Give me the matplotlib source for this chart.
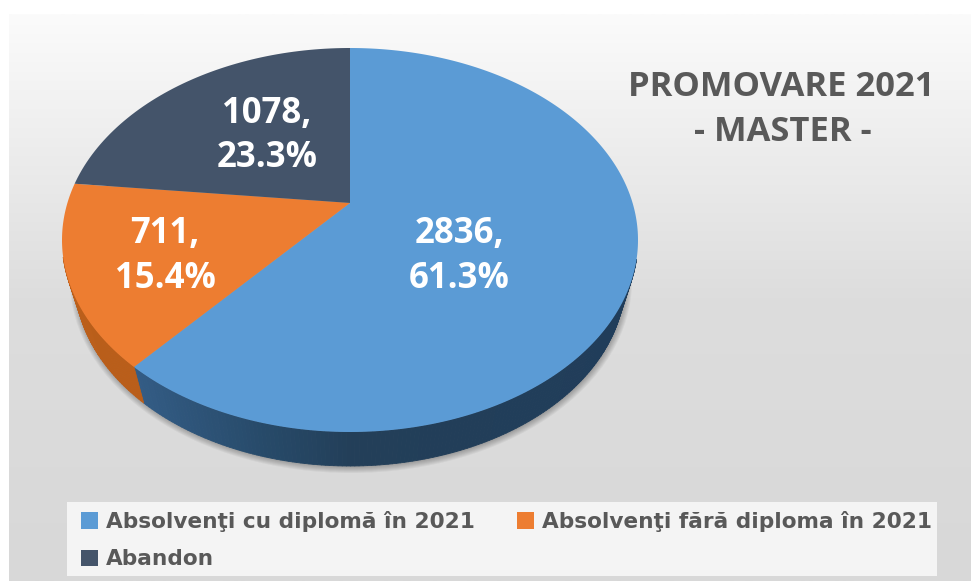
import numpy as np
import matplotlib
matplotlib.use("Agg")
import matplotlib.pyplot as plt
from matplotlib.collections import PolyCollection
from matplotlib.colors import to_rgb, LinearSegmentedColormap
from matplotlib.patches import Ellipse, Patch, Rectangle
from matplotlib.path import Path
from matplotlib.transforms import Affine2D, Transform

categories = ["Absolvenţi cu diplomă în 2021", "Absolvenţi fără diploma în 2021", "Abandon"]
values = [2836, 711, 1078]
colors = ["#5B9BD5", "#ED7D31", "#44546A"]
title_lines = ["PROMOVARE 2021", "- MASTER -"]

W, H = 971, 583
TILT = 0.193
CX, CY, RX, RY = 350, 240, 288, 192
BX, BY, BRX, BRY = 350, 280, 275, 186


class Perspective(Transform):
    input_dims = 2
    output_dims = 2

    def transform_non_affine(self, xy):
        xy = np.asarray(xy, float)
        w = 1 + TILT * xy[:, 1]
        return np.column_stack((xy[:, 0] * np.sqrt(1 - TILT ** 2) / w, (xy[:, 1] + TILT) / w))

    def transform_path_non_affine(self, path):
        poly = path.transformed(Affine2D().scale(2000)).to_polygons(closed_only=False)[0] / 2000
        return Path(self.transform_non_affine(poly))


fig = plt.figure(figsize=(W / 100, H / 100), dpi=100, facecolor="white")
ax = fig.add_axes([0, 0, 1, 1])

# background gradient panel
bg_cmap = LinearSegmentedColormap.from_list(
    "bg", [(0, "#fbfbfb"), (0.25, "#ececec"), (0.5, "#dddddd"), (1, "#d8d8d8")])
ax.imshow(np.linspace(0, 1, 256)[:, None], cmap=bg_cmap, aspect="auto",
          extent=(9, W, 581, 14), zorder=0, vmin=0, vmax=1)

# soft shadow under the pie
for k in range(7):
    ax.add_patch(Ellipse((BX + 1, BY + 1), 2 * (BRX + k), 2 * (BRY + k), color="black",
                         alpha=0.045, lw=0, zorder=1))

# side wall, computed from the same value angles as the top
shades = [
    [(-1.0, "#386592"), (-0.75, "#335c85"), (-0.3, "#274a69"), (0.0, "#233f59"), (1.0, "#203d5a")],
    [(-1.0, "#bb5f1b"), (1.0, "#b0540f")],
    [(-1.0, "#2b3a4d"), (1.0, "#2b3a4d")],
]
persp = Perspective()
fractions = np.cumsum([0] + values) / sum(values) * 2 * np.pi
quads, quad_colors = [], []
for i in range(len(values)):
    n = max(int((fractions[i + 1] - fractions[i]) * 80), 2)
    t = np.linspace(fractions[i], fractions[i + 1], n + 1)
    p = persp.transform_non_affine(np.column_stack((np.sin(t), np.cos(t))))
    tx, ty = CX + RX * p[:, 0], CY - RY * p[:, 1]
    bx, by = BX + BRX * p[:, 0], BY - BRY * p[:, 1]
    stops = shades[i]
    sx = [s[0] for s in stops]
    sc = np.array([to_rgb(s[1]) for s in stops])
    for j in range(n):
        if p[j, 1] > -0.1:  # the far wall is hidden by the top face
            continue
        quads.append([(tx[j], ty[j]), (tx[j + 1], ty[j + 1]), (bx[j + 1], by[j + 1]), (bx[j], by[j])])
        xm = (p[j, 0] + p[j + 1, 0]) / 2
        quad_colors.append([np.interp(xm, sx, sc[:, c]) for c in range(3)])
ax.add_collection(PolyCollection(quads, facecolors=quad_colors, edgecolors=quad_colors,
                                 linewidths=0.6, zorder=2))

# top face
wedges, _ = ax.pie(values, colors=colors, startangle=90, counterclock=False, radius=1)
top_tf = persp + Affine2D().scale(RX, -RY).translate(CX, CY) + ax.transData
for w in wedges:
    w.set_transform(top_tf)
    w.set_zorder(3)
    w.set_linewidth(0)
ax.set_aspect("auto")
ax.set_xlim(0, W)
ax.set_ylim(H, 0)
ax.set_axis_off()

# data labels
total = sum(values)
label_pos = [(459, 256.5), (165, 256.5), (267, 136)]
for v, (x, y) in zip(values, label_pos):
    ax.text(x, y, f"{v},\n{v / total * 100:.1f}%", color="white", ha="center", va="center",
            family="Open Sans", weight="bold", fontsize=25, linespacing=1.33, zorder=5)

# title
ax.text(781, 87, title_lines[0], color="#595959", ha="center", va="center",
        family="Open Sans", weight="bold", fontsize=24.8, zorder=5)
ax.text(783, 132, title_lines[1], color="#595959", ha="center", va="center",
        family="Open Sans", weight="bold", fontsize=24.8, zorder=5)

# legend
ax.add_patch(Rectangle((67, 502), 870, 74, facecolor="#F4F4F4", edgecolor="none", zorder=4))
order = [0, 2, 1]
handles = [Patch(facecolor=colors[i], edgecolor="none", label=categories[i]) for i in order]
leg = ax.legend(handles=handles, ncol=2, loc="upper left", bbox_to_anchor=(81, 511),
                bbox_transform=ax.transData, frameon=False, borderpad=0, borderaxespad=0,
                prop={"family": "DejaVu Sans", "weight": "bold", "size": 15.6},
                labelcolor="#595959", handlelength=0.79, handleheight=0.79,
                handletextpad=0.35, columnspacing=1.95, labelspacing=0.8)
leg.set_zorder(6)

fig.savefig("out.png", dpi=100, facecolor="white")
